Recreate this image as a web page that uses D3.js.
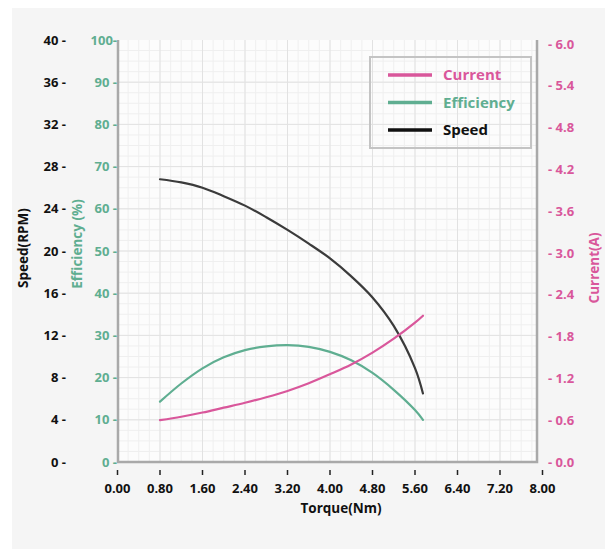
<!DOCTYPE html>
<html>
<head>
<meta charset="utf-8">
<script src="https://cdn.jsdelivr.net/npm/d3@7"></script>
<style>
  body { margin: 0; background: #fff; }
  text { font-family: "Open Sans", sans-serif; font-weight: 700; }
</style>
</head>
<body>
<svg width="605" height="552"></svg>
<script>
// values
const torque = [0.8, 1.2, 1.6, 2.0, 2.4, 2.8, 3.2, 3.6, 4.0, 4.4, 4.8, 5.2, 5.6, 5.75];
const speed = [26.8, 26.5, 26.0, 25.2, 24.3, 23.2, 22.0, 20.7, 19.3, 17.6, 15.6, 12.9, 8.9, 6.5];
const efficiency = [14.3, 18.6, 22.2, 24.8, 26.5, 27.4, 27.7, 27.3, 26.1, 24.1, 21.1, 17.1, 12.3, 10.0];
const current = [0.60, 0.65, 0.71, 0.78, 0.85, 0.93, 1.02, 1.13, 1.26, 1.40, 1.57, 1.77, 2.00, 2.10];

const xTicks = [0, 0.8, 1.6, 2.4, 3.2, 4.0, 4.8, 5.6, 6.4, 7.2, 8.0];
const speedTicks = [0, 4, 8, 12, 16, 20, 24, 28, 32, 36, 40];
const effTicks = [0, 10, 20, 30, 40, 50, 60, 70, 80, 90, 100];
const currentTicks = [0, 0.6, 1.2, 1.8, 2.4, 3.0, 3.6, 4.2, 4.8, 5.4, 6.0];

const pink = '#d9579b', green = '#5fae91', dark = '#3b3b3b';

let svg = d3.select('svg');

svg.append('rect').attr('x', 12).attr('y', 8).attr('width', 593).attr('height', 541).attr('fill', '#f5f5f5');

let x = d3.scaleLinear().domain([0, 8]).range([117.5, 542.5]);
let ySpeed = d3.scaleLinear().domain([0, 40]).range([462, 40]);
let yEff = d3.scaleLinear().domain([0, 100]).range([462, 40]);
let yCur = d3.scaleLinear().domain([0, 6]).range([462, 44]);

let pLeft = 118, pRight = 537, pTop = 40, pBottom = 462;

svg.append('rect').attr('x', pLeft).attr('y', pTop).attr('width', pRight - pLeft).attr('height', pBottom - pTop).attr('fill', '#fcfcfc');

// minor grid
let grid = svg.append('g');
let minorX = d3.range(0, 8.001, 0.2).map(d => x(d)).filter(v => v > pLeft && v < pRight);
let minorY = d3.range(0, 40.001, 1).map(d => ySpeed(d)).filter(v => v > pTop && v < pBottom);
grid.selectAll('.mx').data(minorX).join('line')
  .attr('x1', d => d).attr('x2', d => d).attr('y1', pTop).attr('y2', pBottom)
  .attr('stroke', '#efefef').attr('stroke-width', 1);
grid.selectAll('.my').data(minorY).join('line')
  .attr('x1', pLeft).attr('x2', pRight).attr('y1', d => d).attr('y2', d => d)
  .attr('stroke', '#efefef').attr('stroke-width', 1);
// major grid
grid.selectAll('.Mx').data(xTicks.map(d => x(d)).filter(v => v > pLeft && v < pRight)).join('line')
  .attr('x1', d => d).attr('x2', d => d).attr('y1', pTop).attr('y2', pBottom)
  .attr('stroke', '#e2e2e2').attr('stroke-width', 1);
grid.selectAll('.My').data(speedTicks.map(d => ySpeed(d)).filter(v => v > pTop && v < pBottom)).join('line')
  .attr('x1', pLeft).attr('x2', pRight).attr('y1', d => d).attr('y2', d => d)
  .attr('stroke', '#e2e2e2').attr('stroke-width', 1);

// frame
svg.append('path').attr('d', `M${pLeft},${pTop}V${pBottom}H${pRight}V${pTop}`)
  .attr('fill', 'none').attr('stroke', '#a9a9a9').attr('stroke-width', 2.5);

// x axis ticks and labels
let xAxis = svg.append('g');
xAxis.selectAll('line').data(xTicks).join('line')
  .attr('x1', d => x(d)).attr('x2', d => x(d)).attr('y1', 470).attr('y2', 475)
  .attr('stroke', '#222').attr('stroke-width', 1.5);
xAxis.selectAll('text').data(xTicks).join('text')
  .attr('x', d => x(d)).attr('y', 493).attr('text-anchor', 'middle')
  .attr('font-size', 13).attr('fill', '#111')
  .text(d => d.toFixed(2));
svg.append('text').attr('x', 341).attr('y', 513).attr('text-anchor', 'middle')
  .attr('font-size', 13.5).attr('fill', '#111').text('Torque(Nm)');

// left axes
svg.append('g').selectAll('text').data(speedTicks).join('text')
  .attr('x', 66).attr('y', d => ySpeed(d) + 4.5).attr('text-anchor', 'end')
  .attr('font-size', 13).attr('fill', '#111').text(d => d + ' -');
svg.append('g').selectAll('text').data(effTicks).join('text')
  .attr('x', 117).attr('y', d => yEff(d) + 4.5).attr('text-anchor', 'end')
  .attr('font-size', 13).attr('fill', green).text(d => d === 100 ? '100-' : d + ' -');
svg.append('g').selectAll('text').data(currentTicks).join('text')
  .attr('x', 548).attr('y', d => yCur(d) + 4.5).attr('text-anchor', 'start')
  .attr('font-size', 13).attr('fill', pink).text(d => '- ' + d.toFixed(1));

svg.append('text').attr('transform', 'translate(28,248) rotate(-90)').attr('text-anchor', 'middle')
  .attr('font-size', 13.5).attr('fill', '#111').text('Speed(RPM)');
svg.append('text').attr('transform', 'translate(82,244) rotate(-90)').attr('text-anchor', 'middle')
  .attr('font-size', 13.5).attr('fill', green).text('Efficiency (%)');
svg.append('text').attr('transform', 'translate(599,268) rotate(-90)').attr('text-anchor', 'middle')
  .attr('font-size', 13.5).attr('fill', pink).text('Current(A)');

// curves
function drawLine(values, yScale, color) {
  let line = d3.line().x(d => x(d[0])).y(d => yScale(d[1])).curve(d3.curveCatmullRom.alpha(0.5));
  svg.append('path').datum(torque.map((t, i) => [t, values[i]]))
    .attr('d', line).attr('fill', 'none').attr('stroke', color)
    .attr('stroke-width', 2.2).attr('stroke-linecap', 'round');
}
drawLine(speed, ySpeed, dark);
drawLine(efficiency, yEff, green);
drawLine(current, yCur, pink);

// legend
let legendItems = [['Current', pink, pink], ['Efficiency', green, green], ['Speed', '#111', '#111']];
let legend = svg.append('g');
legend.append('rect').attr('x', 370).attr('y', 57).attr('width', 161).attr('height', 91)
  .attr('fill', 'none').attr('stroke', '#c4c4c4').attr('stroke-width', 2);
legend.selectAll('line').data(legendItems).join('line')
  .attr('x1', 388).attr('x2', 432).attr('y1', (d, i) => 75 + i * 27.5).attr('y2', (d, i) => 75 + i * 27.5)
  .attr('stroke', d => d[1]).attr('stroke-width', 3.5);
legend.selectAll('text').data(legendItems).join('text')
  .attr('x', 443).attr('y', (d, i) => 80 + i * 27.5)
  .attr('font-size', 15).attr('fill', d => d[2]).text(d => d[0]);
</script>
</body>
</html>
